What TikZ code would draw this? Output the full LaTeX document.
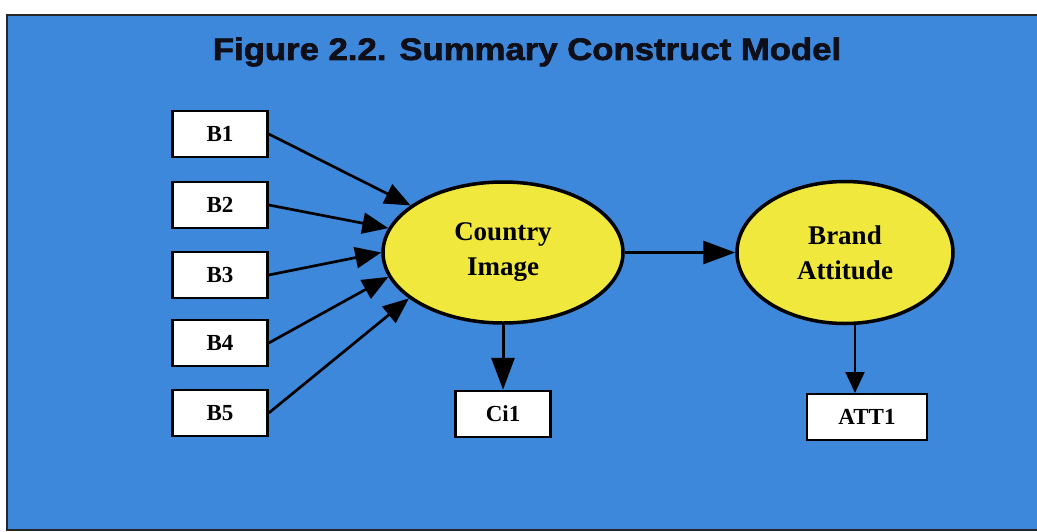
\documentclass[tikz,border=0pt]{standalone}
\usepackage{fontspec}
\setmainfont{Liberation Serif}
\newfontfamily\titlefont[FakeStretch=1.12,FakeBold=2.2]{Liberation Sans Bold}
\usetikzlibrary{arrows.meta,shapes.geometric}
\definecolor{bgblue}{RGB}{62,136,220}
\definecolor{ellyellow}{RGB}{240,232,60}
\definecolor{titleink}{RGB}{15,15,25}
\begin{document}
\begin{tikzpicture}[x=1pt,y=-1pt,
  ibox/.style={draw=black,line width=2.5pt,fill=white,minimum width=95pt,minimum height=46pt,inner sep=0pt,font=\bfseries\fontsize{23}{26}\selectfont},
  latent/.style={ellipse,draw=black,line width=3.5pt,fill=ellyellow,inner sep=0pt,align=center,font=\bfseries\fontsize{27}{35}\selectfont},
  inarrow/.style={line width=2.7pt,-{Triangle[length=26pt,width=21pt]}},
  bigarrow/.style={line width=3pt,-{Triangle[length=32pt,width=23pt]}},
  thinarrow/.style={line width=2pt,-{Triangle[length=21pt,width=19pt]}}]
\useasboundingbox (0,0) rectangle (1037,531);
\fill[white] (0,0) rectangle (1037,531);
\draw[fill=bgblue,line width=2.5pt,draw=black!85] (7,15) rectangle (1050,530);
\node[font=\titlefont\fontsize{31}{36}\selectfont,text=titleink] (title) at (527,52) {Figure 2.2. Summary Construct Model};
\node[ibox] (b1) at (220,134) {B1};
\node[ibox] (b2) at (220,205) {B2};
\node[ibox] (b3) at (220,275) {B3};
\node[ibox] (b4) at (220,343) {B4};
\node[ibox] (b5) at (220,413) {B5};
\node[latent,minimum width=240pt,minimum height=141pt] (ci) at (503,252.5) {Country\\Image};
\node[latent,minimum width=216pt,minimum height=142pt] (ba) at (845,252.5) {Brand\\Attitude};
\node[ibox] (ci1) at (503,414) {Ci1};
\node[ibox,minimum width=120pt] (att) at (867,417) {ATT1};
\draw[inarrow] (b1.east) -- (ci.153);
\draw[inarrow] (b2.east) -- (ci.168);
\draw[inarrow] (b3.east) -- (ci.180);
\draw[inarrow] (b4.east) -- (ci.192);
\draw[inarrow] (b5.east) -- (ci.206);
\draw[bigarrow] (ci.east) -- (ba.west);
\draw[bigarrow] (ci.south) -- (ci1.north);
\coordinate (attin) at (855,393);
\draw[thinarrow] (ba.south -| attin) -- (attin);
\end{tikzpicture}
\end{document}
